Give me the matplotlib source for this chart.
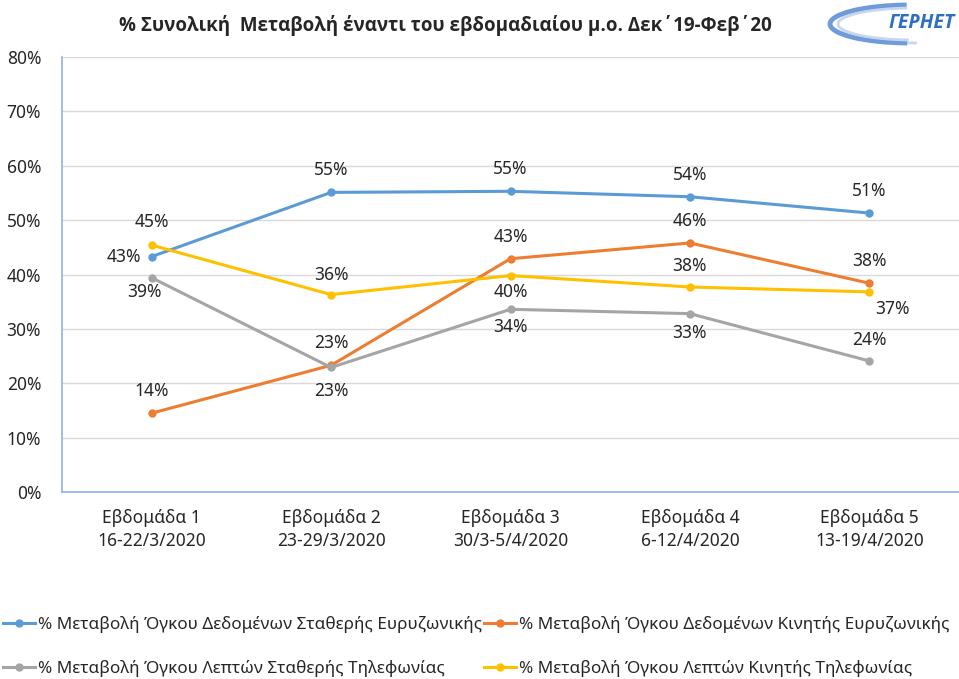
import matplotlib.pyplot as plt
from matplotlib.patches import Arc

plt.rcParams["font.family"] = ["Noto Sans", "DejaVu Sans"]

# categories (weeks)
weeks = ["Εβδομάδα 1\n16-22/3/2020", "Εβδομάδα 2\n23-29/3/2020",
         "Εβδομάδα 3\n30/3-5/4/2020", "Εβδομάδα 4\n6-12/4/2020",
         "Εβδομάδα 5\n13-19/4/2020"]

# series values (fraction)
fixed_data = [0.433, 0.551, 0.553, 0.543, 0.513]
mobile_data = [0.145, 0.233, 0.429, 0.458, 0.384]
fixed_voice = [0.394, 0.229, 0.336, 0.328, 0.241]
mobile_voice = [0.454, 0.363, 0.398, 0.377, 0.368]

names = ["% Μεταβολή Όγκου Δεδομένων Σταθερής Ευρυζωνικής",
         "% Μεταβολή Όγκου Δεδομένων Κινητής Ευρυζωνικής",
         "% Μεταβολή Όγκου Λεπτών Σταθερής Τηλεφωνίας",
         "% Μεταβολή Όγκου Λεπτών Κινητής Τηλεφωνίας"]
colors = ["#5B9BD5", "#ED7D31", "#A5A5A5", "#FFC000"]
series = [fixed_data, mobile_data, fixed_voice, mobile_voice]

# label offsets in points (dx, dy) per series / point
offsets = [
    [(-20, 0), (0, 16), (0, 16), (0, 16), (0, 16)],
    [(0, 16), (0, 16), (0, 16), (0, 16), (0, 16)],
    [(-5, -10), (0, -17), (0, -13), (0, -14), (0, 15)],
    [(0, 17), (0, 14), (0, -12), (0, 15), (17, -12)],
]

fig = plt.figure(figsize=(9.59, 6.79), dpi=100)
ax = fig.add_axes([62 / 959, 1 - 492 / 679, 897 / 959, 435 / 679])

x = list(range(len(weeks)))
lines = []
for vals, col, name, offs in zip(series, colors, names, offsets):
    ln, = ax.plot(x, vals, color=col, lw=2.2, marker="o", ms=5, label=name)
    lines.append(ln)
    for xi, v, (dx, dy) in zip(x, vals, offs):
        ax.annotate(f"{round(v * 100):.0f}%", (xi, v), xytext=(dx, dy),
                    textcoords="offset points", ha="center", va="center",
                    fontsize=12.5, color="#262626")

ax.set_xlim(-0.5, 4.5)
ax.set_ylim(0, 0.8)
ax.set_yticks([i / 10 for i in range(9)])
ax.set_yticklabels([f"{i * 10}%" for i in range(9)])
ax.set_xticks(x)
ax.set_xticklabels(weeks, linespacing=1.4)
ax.tick_params(length=0, labelsize=12.5, colors="#262626")
ax.tick_params(axis="x", pad=12)
ax.tick_params(axis="y", pad=15)
ax.grid(axis="y", color="#D9D9D9", lw=1)
ax.set_axisbelow(True)
for s in ["top", "right"]:
    ax.spines[s].set_visible(False)
for s in ["left", "bottom"]:
    ax.spines[s].set_color("#8EB4E3")
    ax.spines[s].set_linewidth(1.2)

fig.text(445 / 959, 1 - 25 / 679,
         "% Συνολική  Μεταβολή έναντι του εβδομαδιαίου μ.ο. Δεκ΄19-Φεβ΄20",
         ha="center", va="center", fontsize=13.5, fontweight="bold",
         family=["Open Sans", "DejaVu Sans"], color="#262626")

# logo
lax = fig.add_axes([825 / 959, 1 - 48 / 679, 134 / 959, 46 / 679])
lax.set_xlim(0, 134)
lax.set_ylim(0, 46)
lax.axis("off")
lax.add_patch(Arc((85, 24), 160, 38, theta1=100, theta2=262,
                  color="#6F9BD8", lw=3.5))
lax.add_patch(Arc((88, 24), 150, 32, theta1=110, theta2=255,
                  color="#C5D6EE", lw=2))
lax.add_patch(Arc((85, 24), 160, 38, theta1=262, theta2=290,
                  color="#C5D6EE", lw=2))
lax.text(130, 25, "ΓΕΡΗΕΤ", ha="right", va="center", fontsize=14,
         fontstyle="italic", fontweight="bold", color="#2E6FC0",
         family=["Open Sans", "DejaVu Sans"])

# legend: row 1 blue/orange, row 2 grey/yellow
order = [0, 2, 1, 3]
fig.legend([lines[i] for i in order], [names[i] for i in order],
           loc="upper left", bbox_to_anchor=(3 / 959, 1 - 616 / 679), ncol=2,
           frameon=False, fontsize=12.3, handlelength=1.9, handletextpad=0.15,
           columnspacing=0.1, labelspacing=1.6, borderpad=0,
           borderaxespad=0, labelcolor="#262626")

fig.savefig("out.png", dpi=100)
